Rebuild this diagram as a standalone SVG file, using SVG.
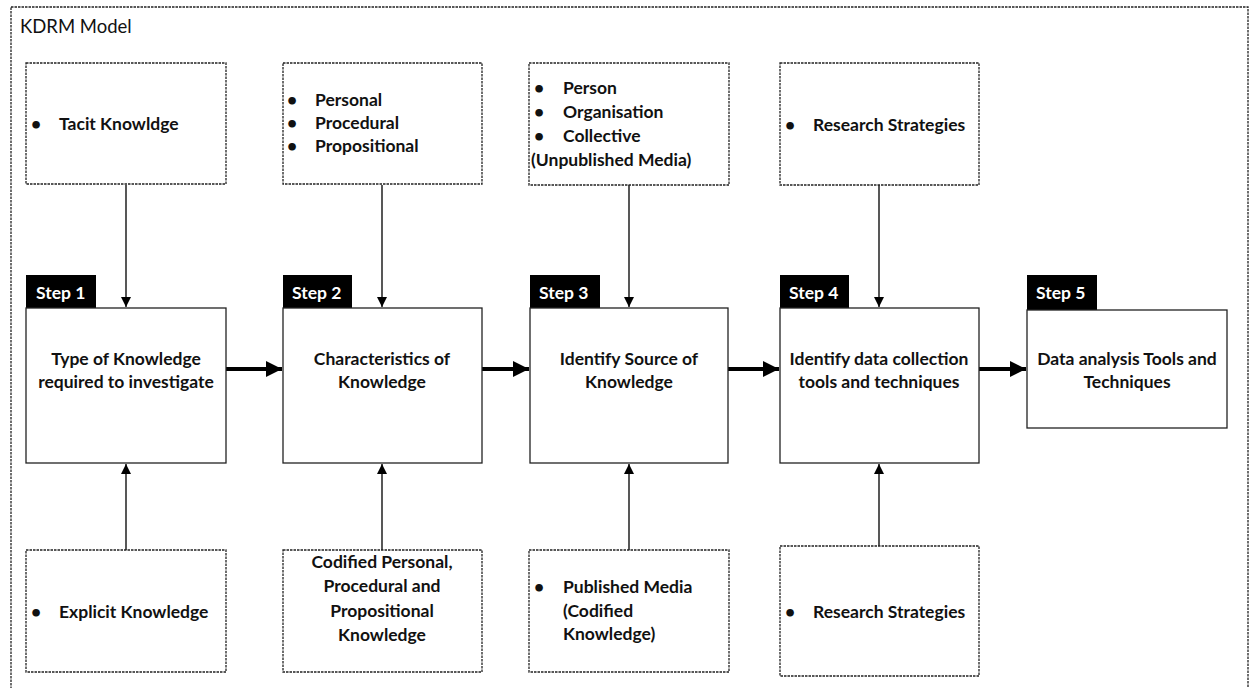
<svg xmlns="http://www.w3.org/2000/svg" width="1251" height="688" viewBox="0 0 1251 688">
  <style>
    .frame { fill: none; stroke: #222; stroke-width: 1.3; stroke-dasharray: 2.5 1; }
    .note { fill: #fff; stroke: #222; stroke-width: 1.3; stroke-dasharray: 2.5 1; }
    .step { fill: #fff; stroke: #222; stroke-width: 1.3; }
    .tab { fill: #000; }
    .tabtxt { font-family: Lato, "Liberation Sans", sans-serif; font-weight: bold; font-size: 17.5px; fill: #fff; }
    .t { font-family: Lato, "Liberation Sans", sans-serif; font-weight: bold; font-size: 17.5px; fill: #111; }
    .c { text-anchor: middle; }
    .title { font-family: Lato, "Liberation Sans", sans-serif; font-size: 18.5px; fill: #111; }
    .thin { stroke: #111; stroke-width: 1.4; fill: none; }
    .thick { stroke: #000; stroke-width: 4; fill: none; }
  </style>
  <defs>
    <marker id="ah" viewBox="0 0 10 10" refX="10" refY="5" markerWidth="10" markerHeight="12" markerUnits="userSpaceOnUse" orient="auto">
      <path d="M0,0 L10,5 L0,10 Z" fill="#000"/>
    </marker>
    <marker id="ahb" viewBox="0 0 10 10" refX="10" refY="5" markerWidth="18" markerHeight="16" markerUnits="userSpaceOnUse" orient="auto">
      <path d="M0,0 L10,5 L0,10 Z" fill="#000"/>
    </marker>
  </defs>

  <rect width="1251" height="688" fill="#fff"/>

  <!-- model frame -->
  <g id="frame">
    <rect class="frame" x="11" y="7" width="1237" height="700"/>
    <text class="title" x="20" y="33">KDRM Model</text>
  </g>

  <!-- connectors -->
  <g id="connectors">
    <line class="thin" x1="126" y1="185" x2="126" y2="307" marker-end="url(#ah)"/>
    <line class="thin" x1="382" y1="185" x2="382" y2="307" marker-end="url(#ah)"/>
    <line class="thin" x1="629" y1="185" x2="629" y2="307" marker-end="url(#ah)"/>
    <line class="thin" x1="879" y1="185" x2="879" y2="307" marker-end="url(#ah)"/>

    <line class="thin" x1="126" y1="550" x2="126" y2="464" marker-end="url(#ah)"/>
    <line class="thin" x1="382" y1="550" x2="382" y2="464" marker-end="url(#ah)"/>
    <line class="thin" x1="629" y1="550" x2="629" y2="464" marker-end="url(#ah)"/>
    <line class="thin" x1="879" y1="546" x2="879" y2="464" marker-end="url(#ah)"/>

    <line class="thick" x1="226" y1="369" x2="282" y2="369" marker-end="url(#ahb)"/>
    <line class="thick" x1="482" y1="369" x2="529" y2="369" marker-end="url(#ahb)"/>
    <line class="thick" x1="728" y1="369" x2="779" y2="369" marker-end="url(#ahb)"/>
    <line class="thick" x1="979" y1="369" x2="1026" y2="369" marker-end="url(#ahb)"/>
  </g>

  <!-- upper notes -->
  <g id="tacit">
    <rect class="note" x="26" y="63" width="200" height="121"/>
    <text class="t" x="31" y="130">•</text>
    <text class="t" x="59" y="130">Tacit Knowldge</text>
  </g>
  <g id="characteristics-list">
    <rect class="note" x="283" y="63" width="199" height="121"/>
    <text class="t" x="287" y="106">•</text><text class="t" x="315" y="106">Personal</text>
    <text class="t" x="287" y="129">•</text><text class="t" x="315" y="129">Procedural</text>
    <text class="t" x="287" y="152">•</text><text class="t" x="315" y="152">Propositional</text>
  </g>
  <g id="unpublished">
    <rect class="note" x="529" y="63" width="200" height="122"/>
    <text class="t" x="534" y="94">•</text><text class="t" x="563" y="94">Person</text>
    <text class="t" x="534" y="118">•</text><text class="t" x="563" y="118">Organisation</text>
    <text class="t" x="534" y="142">•</text><text class="t" x="563" y="142">Collective</text>
    <text class="t" x="531" y="166">(Unpublished Media)</text>
  </g>
  <g id="research-top">
    <rect class="note" x="780" y="63" width="199" height="122"/>
    <text class="t" x="785" y="131">•</text>
    <text class="t" x="813" y="131">Research Strategies</text>
  </g>

  <!-- steps -->
  <g id="step1">
    <rect class="tab" x="26" y="275" width="70" height="34"/>
    <text class="tabtxt" x="36" y="299">Step 1</text>
    <rect class="step" x="26" y="308" width="200" height="155"/>
    <text class="t c" x="126" y="365">Type of Knowledge</text>
    <text class="t c" x="126" y="388">required to investigate</text>
  </g>
  <g id="step2">
    <rect class="tab" x="283" y="275" width="69" height="34"/>
    <text class="tabtxt" x="292" y="299">Step 2</text>
    <rect class="step" x="283" y="308" width="199" height="155"/>
    <text class="t c" x="382" y="365">Characteristics of</text>
    <text class="t c" x="382" y="388">Knowledge</text>
  </g>
  <g id="step3">
    <rect class="tab" x="530" y="275" width="70" height="34"/>
    <text class="tabtxt" x="539" y="299">Step 3</text>
    <rect class="step" x="530" y="308" width="198" height="155"/>
    <text class="t c" x="629" y="365">Identify Source of</text>
    <text class="t c" x="629" y="388">Knowledge</text>
  </g>
  <g id="step4">
    <rect class="tab" x="780" y="275" width="69" height="34"/>
    <text class="tabtxt" x="789" y="299">Step 4</text>
    <rect class="step" x="780" y="308" width="199" height="155"/>
    <text class="t c" x="879" y="365">Identify data collection</text>
    <text class="t c" x="879" y="388">tools and techniques</text>
  </g>
  <g id="step5">
    <rect class="tab" x="1027" y="275" width="70" height="35"/>
    <text class="tabtxt" x="1036" y="299">Step 5</text>
    <rect class="step" x="1027" y="310" width="200" height="118"/>
    <text class="t c" x="1127" y="365">Data analysis Tools and</text>
    <text class="t c" x="1127" y="388">Techniques</text>
  </g>

  <!-- lower notes -->
  <g id="explicit">
    <rect class="note" x="26" y="550" width="200" height="122"/>
    <text class="t" x="31" y="618">•</text>
    <text class="t" x="59" y="618">Explicit Knowledge</text>
  </g>
  <g id="codified">
    <rect class="note" x="283" y="550" width="199" height="122"/>
    <text class="t c" x="382" y="568">Codified Personal,</text>
    <text class="t c" x="382" y="592">Procedural and</text>
    <text class="t c" x="382" y="617">Propositional</text>
    <text class="t c" x="382" y="641">Knowledge</text>
  </g>
  <g id="published">
    <rect class="note" x="529" y="550" width="200" height="122"/>
    <text class="t" x="534" y="593">•</text>
    <text class="t" x="563" y="593">Published Media</text>
    <text class="t" x="563" y="617">(Codified</text>
    <text class="t" x="563" y="640">Knowledge)</text>
  </g>
  <g id="research-bottom">
    <rect class="note" x="780" y="546" width="199" height="130"/>
    <text class="t" x="785" y="618">•</text>
    <text class="t" x="813" y="618">Research Strategies</text>
  </g>
</svg>
